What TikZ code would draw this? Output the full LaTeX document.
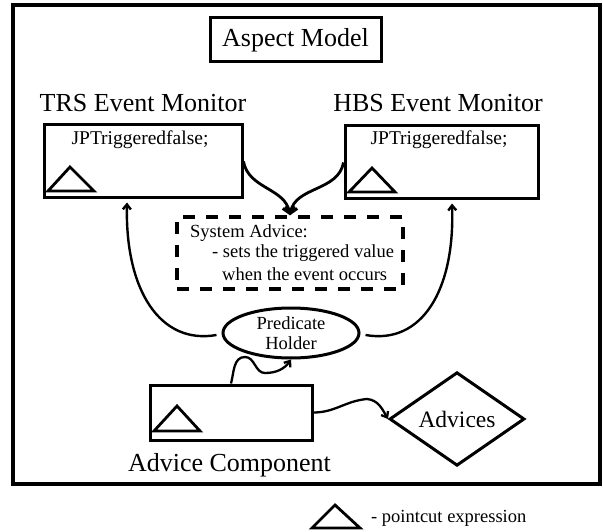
\documentclass[tikz,border=0pt]{standalone}
\usepackage{fontspec}
\setmainfont{Liberation Serif}
\usetikzlibrary{shapes.geometric,arrows.meta}
\newcommand\FBig{\fontsize{26}{30}\selectfont}
\newcommand\FJP{\fontsize{19.5}{22}\selectfont}
\newcommand\FTxt{\fontsize{18.5}{21}\selectfont}
\newcommand\FAdv{\fontsize{23.5}{27}\selectfont}
\begin{document}
\begin{tikzpicture}[x=1pt,y=1pt,
  box/.style={draw, line width=3pt, rectangle, inner sep=0pt},
  dbox/.style={draw, line width=3.4pt, rectangle, inner sep=0pt, dash pattern=on 12pt off 11pt},
  pc/.style={draw, line width=2.8pt, line join=miter},
  bigarrow/.style={line width=2.8pt, -{Straight Barb[length=6pt,width=12pt]}},
  midarrow/.style={line width=2.4pt, -{Straight Barb[length=5pt,width=8pt]}},
  wavy/.style={line width=2.3pt, -{Straight Barb[length=5pt,width=8pt]}},
  lbl/.style={inner sep=0pt, anchor=base}
]
\useasboundingbox (0,0) rectangle (603,-532);
% outer frame
\node[box, line width=3.4pt, minimum width=587pt, minimum height=479pt] (frame) at (306.5,-244.5) {};
% title
\node[box, minimum width=171pt, minimum height=44pt, font=\FBig] (am) at (295.5,-40) {Aspect Model};
% monitors
\node[lbl, font=\FBig] (trstitle) at (143,-112) {TRS Event Monitor};
\node[lbl, font=\FBig] (hbstitle) at (438,-112) {HBS Event Monitor};
\node[box, minimum width=198pt, minimum height=73pt] (trs) at (143,-161.5) {};
\node[box, minimum width=193pt, minimum height=73pt] (hbs) at (441.5,-162.5) {};
\node[lbl, font=\FJP] (trsjp) at (140,-145) {JPTriggeredfalse;};
\node[lbl, font=\FJP] (hbsjp) at (439,-145) {JPTriggeredfalse;};
\draw[pc] (48,-191) -- (94,-191) -- (70,-167) -- cycle;
\draw[pc] (349,-192) -- (395,-192) -- (372,-168) -- cycle;
% system advice
\node[dbox, minimum width=226pt, minimum height=72pt] (sa) at (290,-253) {};
\node[inner sep=0pt, anchor=base west, font=\FTxt] (sa1) at (190,-237) {System Advice:};
\node[inner sep=0pt, anchor=base west, font=\FTxt] (sa2) at (212,-258) {- sets the triggered value};
\node[inner sep=0pt, anchor=base west, font=\FTxt] (sa3) at (222,-280) {when the event occurs};
% predicate holder
\node[draw, ellipse, line width=3pt, minimum width=136pt, minimum height=50pt, inner sep=0pt,
      font=\FTxt, align=center] (ph) at (291,-333) {Predicate\\[-1pt]Holder};
% advice component
\node[box, minimum width=162pt, minimum height=55pt] (ac) at (231,-412.5) {};
\draw[pc] (154,-431) -- (200,-431) -- (177,-406) -- cycle;
\node[lbl, font=\FBig] (actitle) at (229.5,-471) {Advice Component};
% advices
\node[draw, diamond, line width=3pt, minimum width=135pt, minimum height=68pt, inner sep=0pt,
      font=\FAdv] (adv) at (457,-419) {Advices};
% connectors
\draw[bigarrow] (trs.east) to[out=-80,in=100] (sa.north);
\draw[bigarrow] (hbs.west) to[out=-100,in=80] (sa.north);
\draw[midarrow] ([xshift=-5pt,yshift=-2pt]ph.west) .. controls (160,-345) and (125,-290) .. ([xshift=-16pt,yshift=-3pt]trs.south);
\draw[midarrow] ([xshift=5pt,yshift=-2pt]ph.east) .. controls (422,-345) and (455,-290) .. ([xshift=10.5pt,yshift=-3pt]hbs.south);
\draw[wavy] (ac.north) to[out=75,in=180] (245,-357) to[out=0,in=180] (265,-373) to[out=0,in=235] (ph.south);
\draw[wavy] (ac.east) to[out=0,in=185] (367,-399) to[out=-5,in=120] (adv.west);
% legend
\draw[pc] (312,-528) -- (360,-528) -- (335,-505) -- cycle;
\node[inner sep=0pt, anchor=base west, font=\FTxt] (legend) at (371,-522) {- pointcut expression};
\end{tikzpicture}
\end{document}
